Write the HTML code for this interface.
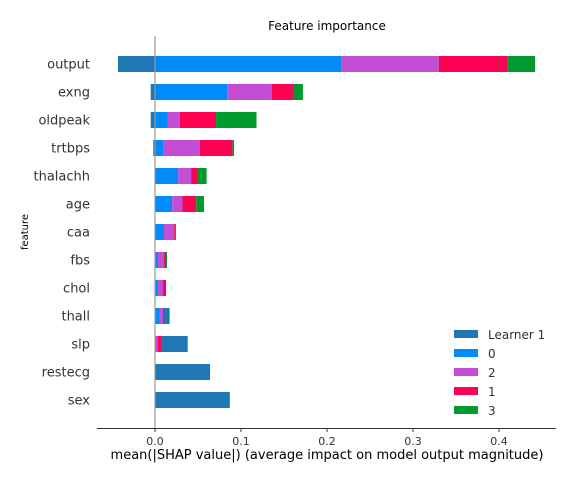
<!DOCTYPE html>
<html><head><meta charset="utf-8"><style>
body{margin:0;background:#fff;}
svg text{font-family:"DejaVu Sans","Liberation Sans",sans-serif;}
</style></head><body>
<svg id="c" width="576" height="482"></svg>
<script>
const features=["output","exng","oldpeak","trtbps","thalachh","age","caa","fbs","chol","thall","slp","restecg","sex"];
const learner1=[-0.043,-0.005,-0.005,-0.002,0,0,0,0,0,0.017,0.038,0.064,0.087];
const s0=[0.217,0.084,0.015,0.010,0.027,0.020,0.0105,0.0035,0.0035,0.0047,0,0,0];
const s2=[0.113,0.052,0.014,0.042,0.015,0.012,0.0116,0.007,0.0058,0.0047,0.0035,0,0];
const s1=[0.080,0.025,0.042,0.038,0.008,0.016,0.001,0.0023,0.0035,0.0006,0.0035,0,0];
const s3=[0.032,0.011,0.047,0.002,0.010,0.009,0.0012,0.0012,0,0.0006,0,0,0];
const xTicks=[0,0.1,0.2,0.3,0.4];
const xTickLabels=["0.0","0.1","0.2","0.3","0.4"];
const NS="http://www.w3.org/2000/svg";
const svg=document.getElementById('c');
const x=v=>155+v*860;
const y=i=>64+i*28;
function mk(t,a,txt){const e=document.createElementNS(NS,t);for(const k in a)e.setAttribute(k,a[k]);if(txt!==undefined)e.textContent=txt;svg.appendChild(e);return e;}
let e;
e=mk('text',{x:327,y:30,'font-size':12,'text-anchor':'middle',fill:'#000'},'Feature importance');


features.forEach((f,i)=>{
  const yc=y(i);
  const l=learner1[i];
  if(l!==0){e=mk('rect',{x:Math.min(x(0),x(l)),y:yc-8,width:Math.abs(x(l)-x(0)),height:16,fill:'#1f77b4'});
  
  }
  let acc=0;
  [[s0,'#008bfb','0'],[s2,'#c44dd6','2'],[s1,'#ff0052','1'],[s3,'#009a2e','3']].forEach(([arr,col,nm])=>{
    const v=arr[i]; if(v>0){
      e=mk('rect',{x:x(acc),y:yc-8,width:x(acc+v)-x(acc),height:16,fill:col});
      
      
    }
    acc+=v;
  });
  e=mk('text',{x:90,y:yc+4.5,'font-size':13,'text-anchor':'end',fill:'#333'},f);
  
  
});
e=mk('line',{x1:155,y1:36,x2:155,y2:428,stroke:'#999','stroke-width':1.2});


e=mk('line',{x1:97,y1:428.5,x2:556,y2:428.5,stroke:'#333','stroke-width':1});


xTicks.forEach((t,k)=>{
  e=mk('line',{x1:x(t),y1:428,x2:x(t),y2:432,stroke:'#333'});
  
  
  e=mk('text',{x:x(t),y:445,'font-size':11,'text-anchor':'middle',fill:'#333'},xTickLabels[k]);
  
  
});
e=mk('text',{x:327,y:459,'font-size':13,'text-anchor':'middle',fill:'#000'},'mean(|SHAP value|) (average impact on model output magnitude)');


e=mk('text',{x:0,y:0,'font-size':10,'text-anchor':'middle',fill:'#000',transform:'translate(28,232) rotate(-90)'},'feature');


[['Learner 1','#1f77b4'],['0','#008bfb'],['2','#c44dd6'],['1','#ff0052'],['3','#009a2e']].forEach(([n,c],k)=>{
  const ly=334+k*19;
  e=mk('rect',{x:454,y:ly-4,width:24,height:8,fill:c});
  
  
  e=mk('text',{x:488,y:ly+5,'font-size':12,fill:'#333'},n);
  
  
});
</script>
</body></html>
